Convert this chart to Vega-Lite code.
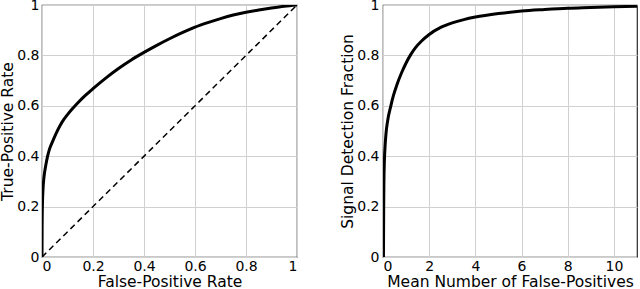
{
  "$schema": "https://vega.github.io/schema/vega-lite/v6.json",
  "autosize": {"type": "pad"},
  "padding": {"left": 0, "top": -3, "right": 0, "bottom": 0},
  "background": "white",
  "spacing": 42,
  "config": {
    "font": "DejaVu Sans",
    "view": {"stroke": "#2a2a2a", "strokeWidth": 1.2},
    "axis": {
      "domain": false,
      "ticks": false,
      "grid": true,
      "gridColor": "#d0d0d0",
      "gridWidth": 1,
      "labelFont": "DejaVu Sans",
      "labelFontSize": 14,
      "labelColor": "#000000",
      "titleFont": "DejaVu Sans",
      "titleFontSize": 15.5,
      "titleFontWeight": "normal",
      "titleColor": "#000000",
      "labelPadding": 3,
      "titlePadding": 1,
      "format": "~r"
    },
    "axisX": {"labelPadding": 2, "titlePadding": 1}
  },
  "datasets": {
    "roc": [
      {"fpr": 0, "tpr": 0},
      {"fpr": 0.0005, "tpr": 0.12},
      {"fpr": 0.001, "tpr": 0.17},
      {"fpr": 0.002, "tpr": 0.22},
      {"fpr": 0.004, "tpr": 0.27},
      {"fpr": 0.007, "tpr": 0.31},
      {"fpr": 0.01, "tpr": 0.335},
      {"fpr": 0.015, "tpr": 0.365},
      {"fpr": 0.022, "tpr": 0.4},
      {"fpr": 0.03, "tpr": 0.43},
      {"fpr": 0.04, "tpr": 0.455},
      {"fpr": 0.055, "tpr": 0.49},
      {"fpr": 0.07, "tpr": 0.52},
      {"fpr": 0.085, "tpr": 0.545},
      {"fpr": 0.1, "tpr": 0.565},
      {"fpr": 0.12, "tpr": 0.589},
      {"fpr": 0.14, "tpr": 0.611},
      {"fpr": 0.17, "tpr": 0.641},
      {"fpr": 0.2, "tpr": 0.668},
      {"fpr": 0.25, "tpr": 0.71},
      {"fpr": 0.3, "tpr": 0.748},
      {"fpr": 0.35, "tpr": 0.782},
      {"fpr": 0.4, "tpr": 0.812},
      {"fpr": 0.45, "tpr": 0.84},
      {"fpr": 0.5, "tpr": 0.866},
      {"fpr": 0.55, "tpr": 0.89},
      {"fpr": 0.6, "tpr": 0.912},
      {"fpr": 0.65, "tpr": 0.93},
      {"fpr": 0.7, "tpr": 0.946},
      {"fpr": 0.75, "tpr": 0.96},
      {"fpr": 0.8, "tpr": 0.971},
      {"fpr": 0.85, "tpr": 0.98},
      {"fpr": 0.9, "tpr": 0.988},
      {"fpr": 0.95, "tpr": 0.995},
      {"fpr": 1, "tpr": 1}
    ],
    "diag": [
      {"fpr": 0, "tpr": 0},
      {"fpr": 1, "tpr": 1}
    ],
    "froc": [
      {"nfp": 0.02, "frac": 0},
      {"nfp": 0.025, "frac": 0.1},
      {"nfp": 0.03, "frac": 0.2},
      {"nfp": 0.04, "frac": 0.3},
      {"nfp": 0.06, "frac": 0.38},
      {"nfp": 0.09, "frac": 0.44},
      {"nfp": 0.13, "frac": 0.49},
      {"nfp": 0.2, "frac": 0.54},
      {"nfp": 0.34, "frac": 0.6},
      {"nfp": 0.45, "frac": 0.64},
      {"nfp": 0.6, "frac": 0.683},
      {"nfp": 0.8, "frac": 0.73},
      {"nfp": 1, "frac": 0.77},
      {"nfp": 1.2, "frac": 0.803},
      {"nfp": 1.4, "frac": 0.83},
      {"nfp": 1.67, "frac": 0.857},
      {"nfp": 2, "frac": 0.883},
      {"nfp": 2.5, "frac": 0.911},
      {"nfp": 3, "frac": 0.929},
      {"nfp": 3.5, "frac": 0.942},
      {"nfp": 4, "frac": 0.952},
      {"nfp": 5, "frac": 0.966},
      {"nfp": 6, "frac": 0.976},
      {"nfp": 7, "frac": 0.982},
      {"nfp": 8, "frac": 0.987},
      {"nfp": 9, "frac": 0.99},
      {"nfp": 10, "frac": 0.993},
      {"nfp": 11, "frac": 0.995}
    ]
  },
  "hconcat": [
    {
      "width": 255,
      "height": 252,
      "layer": [
        {
          "data": {"name": "diag"},
          "mark": {"type": "line", "color": "#000000", "strokeWidth": 1.5, "strokeDash": [6, 4], "clip": true},
          "encoding": {
            "x": {"field": "fpr", "type": "quantitative", "scale": {"domain": [0, 1], "nice": false}, "axis": {"values": [0, 0.2, 0.4, 0.6, 0.8, 1], "title": "False-Positive Rate"}},
            "y": {"field": "tpr", "type": "quantitative", "scale": {"domain": [0, 1], "nice": false}, "axis": {"values": [0, 0.2, 0.4, 0.6, 0.8, 1], "title": "True-Positive Rate"}}
          }
        },
        {
          "data": {"name": "roc"},
          "mark": {"type": "line", "color": "#000000", "strokeWidth": 3, "interpolate": "monotone", "clip": true},
          "encoding": {
            "x": {"field": "fpr", "type": "quantitative"},
            "y": {"field": "tpr", "type": "quantitative"}
          }
        }
      ]
    },
    {
      "width": 254,
      "height": 252,
      "data": {"name": "froc"},
      "mark": {"type": "line", "color": "#000000", "strokeWidth": 3, "interpolate": "monotone", "clip": true},
      "encoding": {
        "x": {"field": "nfp", "type": "quantitative", "scale": {"domain": [0, 11], "nice": false}, "axis": {"values": [0, 2, 4, 6, 8, 10], "title": "Mean Number of False-Positives"}},
        "y": {"field": "frac", "type": "quantitative", "scale": {"domain": [0, 1], "nice": false}, "axis": {"values": [0, 0.2, 0.4, 0.6, 0.8, 1], "title": "Signal Detection Fraction", "labelPadding": 4}}
      }
    }
  ]
}
